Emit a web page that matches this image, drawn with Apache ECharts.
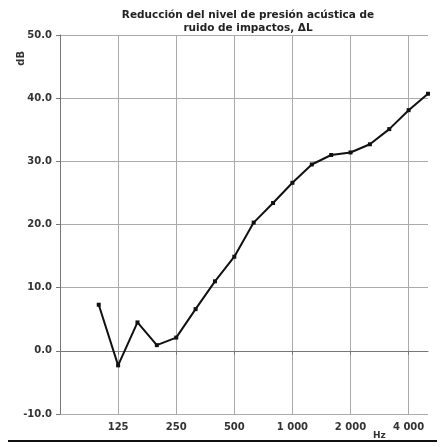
<!DOCTYPE html>
<html>
<head>
<meta charset="utf-8">
<script src="https://cdn.jsdelivr.net/npm/echarts@6/dist/echarts.min.js"></script>
<style>html,body{margin:0;padding:0;background:#fff}#c{width:441px;height:447px}</style>
</head>
<body>
<div id="c"></div>
<script>
// Third-octave band centre frequencies (Hz)
var categories = ['63','80','100','125','160','200','250','315','400','500','630','800','1000','1250','1600','2000','2500','3150','4000','5000'];
// Labels shown on the frequency axis
var tickLabels = ['','','','125','','','250','','','500','','','1 000','','','2 000','','','4 000',''];
// ΔL, dB
var deltaL = [null,null,7.3,-2.3,4.5,0.9,2.1,6.6,11.0,14.9,20.3,23.4,26.6,29.5,31.0,31.4,32.7,35.1,38.1,40.7];
var yTicks = [-10, 0, 10, 20, 30, 40, 50];

var FONT = 'DejaVu Sans';
var chart = echarts.init(document.getElementById('c'), null, {renderer: 'canvas'});
function octave(i) { return i % 3 === 0; }
chart.setOption({
  animation: false,
  backgroundColor: '#fff',
  title: {
    text: 'Reducción del nivel de presión acústica de\nruido de impactos, ΔL',
    left: 243, top: 4, textAlign: 'center',
    textStyle: {fontFamily: FONT, fontWeight: 'bold', fontSize: 10.5, lineHeight: 13, color: '#222'}
  },
  grid: {left: 60, right: 13, top: 35, bottom: 33},
  xAxis: {
    type: 'category', data: categories, boundaryGap: false,
    axisLine: {lineStyle: {color: '#777', width: 1}},
    axisTick: {show: true, interval: function (i) { return octave(i) && i > 0; }, length: 4, lineStyle: {color: '#777'}},
    axisLabel: {interval: function (i) { return tickLabels[i] !== ''; }, formatter: function (v, i) { return tickLabels[i]; },
      fontFamily: FONT, fontWeight: 'bold', fontSize: 10, color: '#333', margin: 8},
    splitLine: {show: true, interval: function (i) { return octave(i) && i > 0; }, lineStyle: {color: '#aaa', width: 1}}
  },
  yAxis: {
    type: 'value', min: yTicks[0], max: yTicks[yTicks.length - 1], interval: 10,
    axisLine: {show: true, lineStyle: {color: '#777', width: 1}},
    axisTick: {show: true, length: 4, lineStyle: {color: '#777'}},
    axisLabel: {formatter: function (v) { return v.toFixed(1); }, fontFamily: FONT, fontWeight: 'bold', fontSize: 10, color: '#333', margin: 8},
    splitLine: {show: true, lineStyle: {color: '#aaa', width: 1}}
  },
  graphic: [
    {type: 'text', left: 16, top: 51, style: {text: 'dB', font: 'bold 10px "DejaVu Sans"', fill: '#333'}, rotation: Math.PI / 2, originX: 0, originY: 0},
    {type: 'text', left: 373, top: 431, style: {text: 'Hz', font: 'bold 9px "DejaVu Sans"', fill: '#333'}},
    {type: 'line', shape: {x1: 8, y1: 441, x2: 437, y2: 441}, style: {stroke: '#111', lineWidth: 2}}
  ],
  series: [{
    type: 'line', data: deltaL, connectNulls: false,
    symbol: 'rect', symbolSize: 4,
    lineStyle: {color: '#111', width: 2},
    itemStyle: {color: '#111'}
  }]
});
</script>
</body>
</html>
